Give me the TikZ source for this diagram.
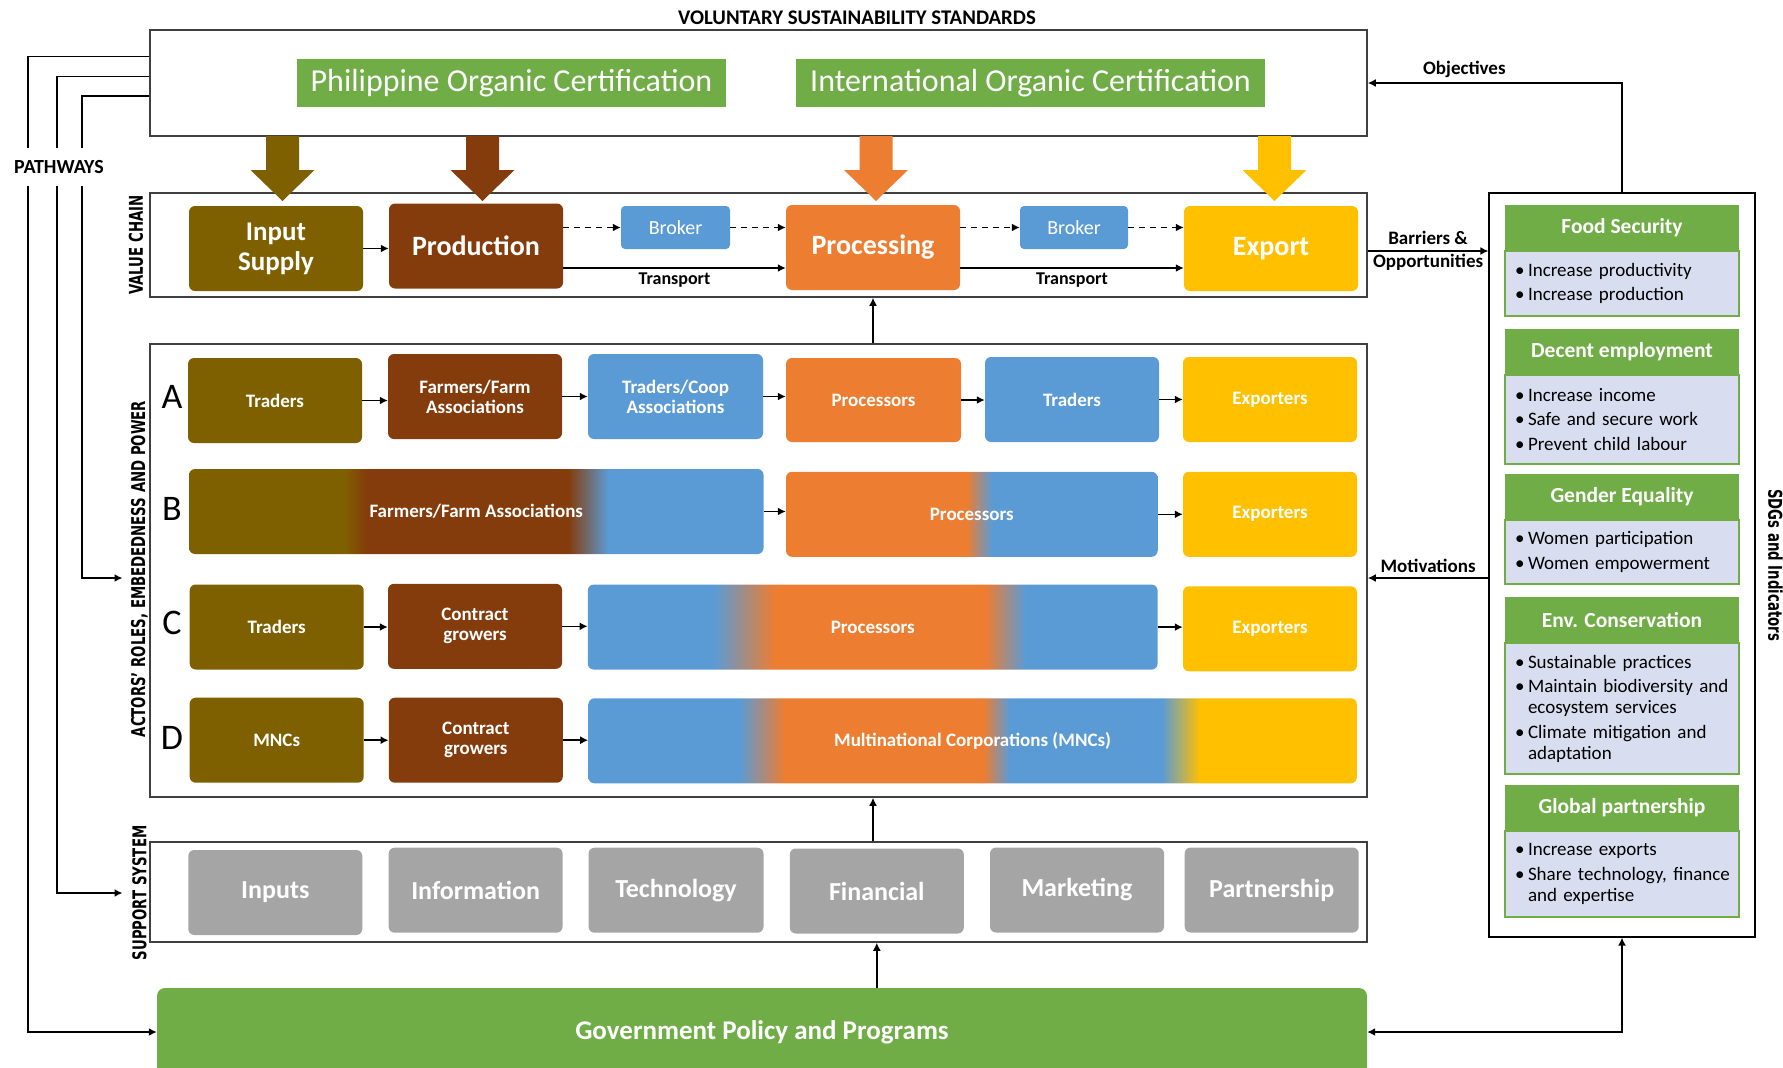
\documentclass[tikz,border=0pt]{standalone}
\usepackage{graphicx}
\usepackage{fontspec}
\setmainfont{Carlito}
\newfontfamily\sidefont{DejaVu Sans}
\usetikzlibrary{arrows.meta,calc}

\definecolor{vcOlive}{HTML}{7F6000}
\definecolor{vcBrown}{HTML}{843C0C}
\definecolor{vcOrange}{HTML}{ED7D31}
\definecolor{vcBlue}{HTML}{5B9BD5}
\definecolor{vcYellow}{HTML}{FFC000}
\definecolor{vcGreen}{HTML}{70AD47}
\definecolor{vcGray}{HTML}{A5A5A5}
\definecolor{sdgBody}{RGB}{216,222,240}

\pgfdeclarehorizontalshading{shadeB}{100bp}{color(0bp)=(vcOlive); color(38.5bp)=(vcOlive); color(40.5bp)=(vcBrown); color(58bp)=(vcBrown); color(61.5bp)=(vcBlue); color(100bp)=(vcBlue)}
\pgfdeclarehorizontalshading{shadeBp}{100bp}{color(0bp)=(vcOrange); color(49.3bp)=(vcOrange); color(52.7bp)=(vcBlue); color(100bp)=(vcBlue)}
\pgfdeclarehorizontalshading{shadeC}{100bp}{color(0bp)=(vcBlue); color(36.1bp)=(vcBlue); color(41.4bp)=(vcOrange); color(59.9bp)=(vcOrange); color(63.4bp)=(vcBlue); color(100bp)=(vcBlue)}
\pgfdeclarehorizontalshading{shadeD}{100bp}{color(0bp)=(vcBlue); color(34.8bp)=(vcBlue); color(37.8bp)=(vcOrange); color(50.7bp)=(vcOrange); color(52.4bp)=(vcBlue); color(62.3bp)=(vcBlue); color(64.8bp)=(vcYellow); color(100bp)=(vcYellow)}

\newcommand{\sidetext}[1]{\scalebox{0.7}[1]{#1}}
\newcommand{\sdgpt}{\hspace*{3pt}\makebox[13pt][l]{\textbullet}}
\newcommand{\sdgcont}{\hspace*{16pt}}

\tikzset{
  frame/.style={draw=black!75, line width=1.5pt, minimum width=1217pt, inner sep=0pt},
  vcbox/.style={rounded corners=6pt, text=white, align=center, inner sep=0pt,
    minimum width=174pt, minimum height=85pt, font=\fontsize{28}{30}\selectfont\bfseries},
  broker/.style={rounded corners=4pt, fill=vcBlue, text=white, inner sep=0pt,
    minimum width=109pt, minimum height=43pt, font=\fontsize{20}{24}\selectfont},
  actor/.style={rounded corners=6pt, text=white, align=center, inner sep=0pt,
    minimum width=174pt, minimum height=85pt, font=\fontsize{19}{20}\selectfont\bfseries},
  support/.style={rounded corners=6pt, fill=vcGray, text=white, inner sep=0pt,
    minimum width=174pt, minimum height=85pt, font=\fontsize{26}{30}\selectfont\bfseries},
  cert/.style={fill=vcGreen, text=white, minimum height=48pt, inner sep=0pt,
    font=\fontsize{32}{36}\selectfont},
  rowletter/.style={font=\fontsize{36}{40}\selectfont},
  sidelabel/.style={font=\sidefont\fontsize{19}{22}\selectfont\bfseries, inner sep=2pt},
  sdghead/.style={fill=vcGreen, text=white, anchor=north, inner sep=0pt,
    minimum width=234pt, minimum height=45pt, font=\fontsize{21.5}{24}\selectfont\bfseries},
  sdgbody/.style={fill=sdgBody, draw=vcGreen, line width=1.2pt, anchor=north,
    text width=220pt, inner xsep=7pt, inner ysep=0pt, align=left,
    font=\fontsize{19}{21}\selectfont},
  lbl/.style={font=\fontsize{19}{23.5}\selectfont\bfseries, align=center},
  arr/.style={line width=1.6pt, -{Latex[length=8pt,width=8pt]}},
  dasharr/.style={arr, line width=1.8pt, dash pattern=on 6pt off 5pt},
  dblarr/.style={line width=1.6pt, {Latex[length=8pt,width=8pt]}-{Latex[length=8pt,width=8pt]}},
}

\begin{document}
\begin{tikzpicture}[x=1pt, y=-1pt]
  \useasboundingbox (0,0) rectangle (1783,1068);

  % frames
  \node[frame, minimum height=106pt] (vss) at (758.5,83) {};
  \node[frame, minimum height=104pt] (vc) at (758.5,245) {};
  \node[frame, minimum height=453pt] (actors) at (758.5,570.5) {};
  \node[frame, minimum height=100pt] (support) at (758.5,892) {};
  \node[draw=black, line width=1.2pt, minimum width=266pt, minimum height=744pt] (sdg) at (1622,565) {};

  \node[font=\fontsize{20.8}{24}\selectfont\bfseries] (vsstitle) at (857,18) {VOLUNTARY SUSTAINABILITY STANDARDS};
  \node[cert, minimum width=429pt] (phcert) at (511.5,83) {Philippine Organic Certification};
  \node[cert, minimum width=469pt] (intcert) at (1030.5,83) {International Organic Certification};

  \foreach \cx/\col in {282.5/vcOlive, 482.5/vcBrown, 876/vcOrange, 1274.5/vcYellow}
    \fill[\col] (\cx-16.5,136) -- (\cx+16.5,136) -- (\cx+16.5,170) -- (\cx+32,170)
      -- (\cx,201) -- (\cx-32,170) -- (\cx-16.5,170) -- cycle;

  % value chain
  \node[vcbox, fill=vcOlive, font=\fontsize{27}{30}\selectfont\bfseries] (inp) at (276,248.5) {Input\\Supply};
  \node[vcbox, fill=vcBrown] (prod) at (476,246) {Production};
  \node[broker] (brk1) at (675.5,227.5) {Broker};
  \node[vcbox, fill=vcOrange] (proc) at (873,247.5) {Processing};
  \node[broker, minimum width=108pt] (brk2) at (1074,227.5) {Broker};
  \node[vcbox, fill=vcYellow] (exp) at (1271,248.5) {Export};

  \draw[arr] (inp.east) -- (inp.east -| prod.west);
  \draw[dasharr] (prod.east |- brk1.west) -- (brk1.west);
  \draw[dasharr] (brk1.east) -- (brk1.east -| proc.west);
  \draw[arr] ($(prod.east)+(0,22)$) coordinate (t1) -- (t1 -| proc.west)
    node[midway, below=1pt, font=\fontsize{18}{20}\selectfont\bfseries] {Transport};
  \draw[dasharr] (proc.east |- brk2.west) -- (brk2.west);
  \draw[dasharr] (brk2.east) -- (brk2.east -| exp.west);
  \draw[arr] ($(proc.east)+(0,20.5)$) coordinate (t2) -- (t2 -| exp.west)
    node[midway, below=1pt, font=\fontsize{18}{20}\selectfont\bfseries] {Transport};

  % actors
  \node[rowletter] (la) at (172,397) {A};
  \node[rowletter] (lb) at (172,509) {B};
  \node[rowletter] (lc) at (172,623) {C};
  \node[rowletter] (ld) at (172,738) {D};

  \node[actor, fill=vcOlive] (a1) at (275,400.5) {Traders};
  \node[actor, fill=vcBrown] (a2) at (475,396.5) {Farmers/Farm\\Associations};
  \node[actor, fill=vcBlue, minimum width=175pt] (a3) at (675.5,396.5) {Traders/Coop\\Associations};
  \node[actor, fill=vcOrange, minimum width=175pt, minimum height=84pt] (a4) at (873.5,400) {Processors};
  \node[actor, fill=vcBlue] (a5) at (1072,399.5) {Traders};
  \node[actor, fill=vcYellow] (a6) at (1270,399.5) {Exporters};

  \node[actor, shade, shading=shadeB, minimum width=574.5pt] (b1) at (476.3,511.5) {Farmers/Farm Associations};
  \node[actor, shade, shading=shadeBp, minimum width=371.6pt] (b2) at (971.8,514.3) {Processors};
  \node[actor, fill=vcYellow] (b3) at (1270,514.3) {Exporters};

  \node[actor, fill=vcOlive] (c1) at (276.7,627) {Traders};
  \node[actor, fill=vcBrown] (c2) at (475,626.3) {Contract\\growers};
  \node[actor, shade, shading=shadeC, minimum width=569.8pt] (c3) at (872.7,627.1) {Processors};
  \node[actor, fill=vcYellow] (c4) at (1270,628.8) {Exporters};

  \node[actor, fill=vcOlive] (d1) at (276.7,740.2) {MNCs};
  \node[actor, fill=vcBrown] (d2) at (475.8,740.2) {Contract\\growers};
  \node[actor, shade, shading=shadeD, minimum width=768.4pt] (d3) at (972.6,740.8) {Multinational Corporations (MNCs)};

  \foreach \a/\b in {a1/a2, a2/a3, a3/a4, a4/a5, a5/a6, b1/b2, b2/b3, c1/c2, c2/c3, c3/c4, d1/d2, d2/d3}
    \draw[arr] (\a.east) -- (\a.east -| \b.west);

  % support system
  \node[support] (s1) at (275.3,892.5) {Inputs};
  \node[support] (s2) at (475.6,890.2) {Information};
  \node[support, minimum width=175pt] (s3) at (676,890.2) {Technology};
  \node[support] (s4) at (876.8,891) {Financial};
  \node[support] (s5) at (1077,890) {Marketing};
  \node[support] (s6) at (1271.7,890) {Partnership};

  \node[fill=vcGreen, rounded corners=8pt, minimum width=1210pt, minimum height=88pt, text=white,
    font=\fontsize{27}{30}\selectfont\bfseries] (gov) at (762,1032) {Government Policy and Programs};

  \draw[arr] (actors.north -| proc.south) -- (vc.south -| proc.south);
  \draw[arr] (support.north -| proc.south) -- (actors.south -| proc.south);
  \draw[arr] (gov.north -| s4.north) -- (support.south -| s4.north);

  % side labels
  \node[sidelabel, rotate=90] (lblvc) at (136,245) {\sidetext{VALUE CHAIN}};
  \node[sidelabel, rotate=90] (lblact) at (139.5,569) {\sidetext{ACTORS’ ROLES, EMBEDEDNESS AND POWER}};
  \node[sidelabel, rotate=90] (lblss) at (139.5,893) {\sidetext{SUPPORT SYSTEM}};
  \node[sidelabel, rotate=-90] (lblsdg) at (1775.5,565) {\sidetext{SDGs and Indicators}};

  % SDGs
  \node[sdghead] (fsh) at (1622,205) {Food Security};
  \node[sdgbody, minimum height=65pt] (fsb) at (fsh.south)
    {\sdgpt Increase productivity\\[3.5pt]\sdgpt Increase production};
  \node[sdghead] (deh) at (1622,329) {Decent employment};
  \node[sdgbody, minimum height=89pt] (deb) at (deh.south)
    {\sdgpt Increase income\\[3.5pt]\sdgpt Safe and secure work\\[3.5pt]\sdgpt Prevent child labour};
  \node[sdghead] (geh) at (1622,474) {Gender Equality};
  \node[sdgbody, minimum height=64pt] (geb) at (geh.south)
    {\sdgpt Women participation\\[3.5pt]\sdgpt Women empowerment};
  \node[sdghead] (ech) at (1622,597) {Env. Conservation};
  \node[sdgbody, minimum height=131pt] (ecb) at (ech.south)
    {\sdgpt Sustainable practices\\[3.5pt]\sdgpt Maintain biodiversity and\\\sdgcont ecosystem services\\[3.5pt]\sdgpt Climate mitigation and\\\sdgcont adaptation};
  \node[sdghead] (gph) at (1622,785) {Global partnership};
  \node[sdgbody, minimum height=86pt] (gpb) at (gph.south)
    {\sdgpt Increase exports\\[3.5pt]\sdgpt Share technology, finance\\\sdgcont and expertise};

  \draw[arr] (sdg.north) |- (vss.east) node[pos=0.81, above=1pt, lbl] {Objectives};
  \draw[arr] ($(vc.east)+(0,6)$) coordinate (bo) -- (bo -| sdg.west)
    node[midway, lbl] {Barriers \&\\Opportunities};
  \draw[arr] ($(sdg.west)+(0,13)$) coordinate (mo) -- (mo -| actors.east)
    node[midway, above=1pt, lbl] {Motivations};
  \draw[dblarr] (gov.east) -| (sdg.south);

  % pathways
  \coordinate (ssin) at ($(lblss.center)+(-17,0)$);
  \coordinate (actin) at ($(lblact.center)+(-17,9)$);
  \draw[arr] ($(vss.north west)!.255!(vss.south west)$) -- ++(-121,0) |- (gov.west);
  \draw[arr] ($(vss.north west)!.44!(vss.south west)$) -- ++(-92,0) |- (ssin);
  \draw[arr] ($(vss.north west)!.62!(vss.south west)$) -- ++(-67,0) |- (actin);
  \node[fill=white, inner xsep=2pt, inner ysep=12pt, font=\fontsize{20}{24}\selectfont\bfseries] (pathways) at (59,167) {PATHWAYS};
\end{tikzpicture}
\end{document}
